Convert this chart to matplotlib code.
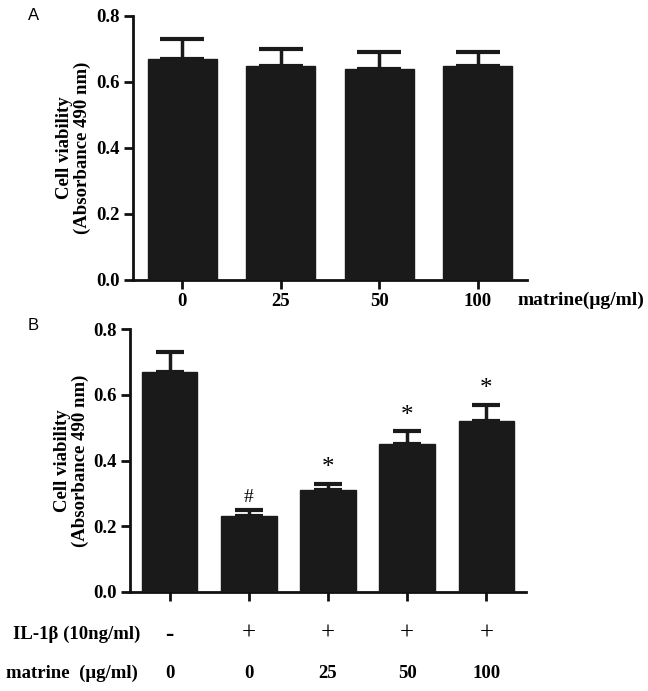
import matplotlib
matplotlib.use("Agg")
import matplotlib.pyplot as plt
from matplotlib.transforms import blended_transform_factory

# ---- data ----
a_labels = ["0", "25", "50", "100"]
a_means = [0.67, 0.65, 0.64, 0.65]
a_errs = [0.06, 0.05, 0.05, 0.04]

b_il1b = ["-", "+", "+", "+", "+"]
b_matrine = ["0", "0", "25", "50", "100"]
b_means = [0.67, 0.23, 0.31, 0.45, 0.52]
b_errs = [0.06, 0.02, 0.02, 0.04, 0.05]
b_marks = ["", "#", "*", "*", "*"]

yticks = [0.0, 0.2, 0.4, 0.6, 0.8]
ylabel = "Cell viability\n(Absorbance 490 nm)"

SERIF = ["Liberation Serif", "DejaVu Serif"]
SANS = ["Liberation Sans", "DejaVu Sans"]
BAR = "#1a1a1a"

W, H = 648, 691
fig = plt.figure(figsize=(W / 100, H / 100), dpi=100)


def style_axes(ax, n):
    ax.set_xlim(-0.5, n - 0.5)
    ax.set_ylim(0, 0.8)
    ax.set_yticks(yticks)
    ax.set_yticklabels([f"{t:.1f}" for t in yticks], fontfamily=SERIF,
                       fontweight="bold", fontsize=13.5)
    for s in ["top", "right"]:
        ax.spines[s].set_visible(False)
    for s in ["left", "bottom"]:
        ax.spines[s].set_linewidth(2)
        ax.spines[s].set_color("#111111")
    ax.tick_params(axis="both", width=2, length=6.5, color="#111111", pad=3)
    ax.set_ylabel(ylabel, fontfamily=SERIF, fontweight="bold", fontsize=13.5,
                  linespacing=1.05)


# ---- Panel A ----
axA = fig.add_axes([133 / W, 1 - 280 / H, (527 - 133) / W, (280 - 16) / H])
xa = list(range(len(a_means)))
axA.bar(xa, a_means, width=0.7, color=BAR, edgecolor=BAR, zorder=3)
axA.errorbar(xa, a_means, yerr=[[0] * len(a_errs), a_errs], fmt="none",
             ecolor=BAR, elinewidth=2.5, capsize=16, capthick=3, zorder=2)
style_axes(axA, len(a_means))
axA.set_xticks(xa)
axA.set_xticklabels(a_labels, fontfamily=SERIF, fontweight="bold", fontsize=13.5)
axA.yaxis.set_label_coords((91 - 133) / (527 - 133), 0.5)
axA.text(517 / W, 1 - 300 / H, "matrine(\u03bcg/ml)", transform=fig.transFigure,
         ha="left", va="center", fontfamily=SERIF, fontweight="bold",
         fontsize=14)
fig.text(28 / W, 1 - 15 / H, "A", fontfamily=SANS, fontsize=12,
         ha="left", va="center")

# ---- Panel B ----
axB = fig.add_axes([130 / W, 1 - 592 / H, (526 - 130) / W, (592 - 329) / H])
xb = list(range(len(b_means)))
axB.bar(xb, b_means, width=0.7, color=BAR, edgecolor=BAR, zorder=3)
axB.errorbar(xb, b_means, yerr=[[0] * len(b_errs), b_errs], fmt="none",
             ecolor=BAR, elinewidth=2.5, capsize=10, capthick=3, zorder=2)
style_axes(axB, len(b_means))
axB.set_xticks(xb)
axB.set_xticklabels([])
axB.yaxis.set_label_coords((89 - 130) / (526 - 130), 0.5)

for x, m, e, mk in zip(xb, b_means, b_errs, b_marks):
    if mk:
        axB.annotate(mk, (x, m + e), xytext=(0, 3), textcoords="offset points",
                     ha="center", va="bottom", fontfamily=SERIF,
                     fontsize=18 if mk == "*" else 14)

tr = blended_transform_factory(axB.transData, fig.transFigure)
for x, s in zip(xb, b_il1b):
    axB.text(x, 1 - 634 / H, s, transform=tr, ha="center", va="center",
             fontfamily=SERIF, fontsize=18,
             fontweight="bold" if s == "-" else "normal")
for x, s in zip(xb, b_matrine):
    axB.text(x, 1 - 674 / H, s, transform=tr, ha="center", va="center",
             fontfamily=SERIF, fontweight="bold", fontsize=13.5)

fig.text(140 / W, 1 - 634 / H, "IL-1\u03b2 (10ng/ml)", ha="right", va="center",
         fontfamily=SERIF, fontweight="bold", fontsize=13.5)
fig.text(138 / W, 1 - 673 / H, "matrine  (\u03bcg/ml)", ha="right", va="center",
         fontfamily=SERIF, fontweight="bold", fontsize=13.5)
fig.text(28 / W, 1 - 325 / H, "B", fontfamily=SANS, fontsize=12,
         ha="left", va="center")

fig.savefig("out.png", dpi=100, facecolor="white")
